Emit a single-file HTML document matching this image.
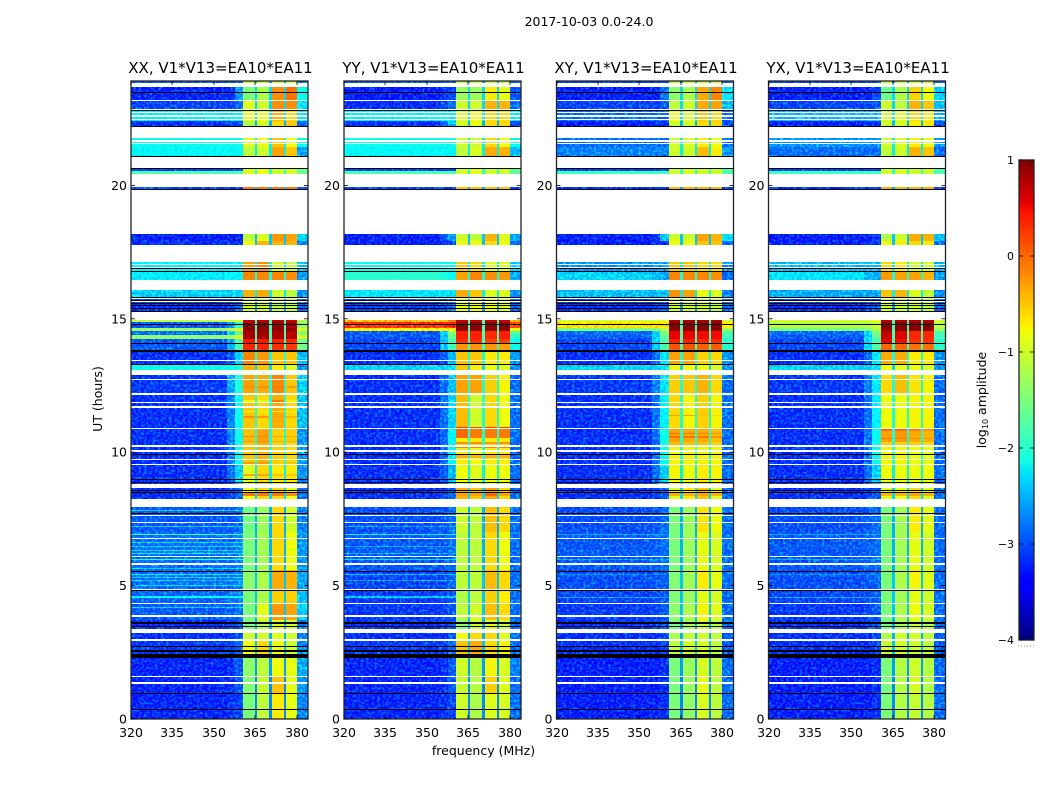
<!DOCTYPE html>
<html>
<head>
<meta charset="utf-8">
<title>2017-10-03 waterfall</title>
<style>
html,body{margin:0;padding:0;background:#fff;}
svg{display:block;}
text{font-family:"DejaVu Sans","Liberation Sans",sans-serif;fill:#000;}
</style>
</head>
<body>
<svg id="fig" xmlns="http://www.w3.org/2000/svg" width="1050" height="800" viewBox="0 0 1050 800">
<defs>
<filter id="grain" filterUnits="userSpaceOnUse" x="0" y="0" width="1050" height="800" color-interpolation-filters="sRGB">
<feTurbulence type="fractalNoise" baseFrequency="0.36 0.4" numOctaves="2" seed="7" result="n"/>
<feColorMatrix in="n" type="matrix" values="0.5 0 0 0 -0.28  0 1.25 0 0 -0.5  0 0 0 0 0  0 0 0 0 1" result="c"/>
<feComposite in="c" in2="SourceAlpha" operator="in" result="m"/>
<feComposite in="SourceGraphic" in2="m" operator="arithmetic" k1="0" k2="1" k3="1" k4="0"/>
</filter>
</defs>
<rect width="1050" height="800" fill="#fff"/>
<text x="589" y="26" font-size="12.5" text-anchor="middle">2017-10-03 0.0-24.0</text>
<text x="0" y="0" font-size="12.5" text-anchor="middle" transform="translate(102,399) rotate(-90)">UT (hours)</text>
<text x="483.5" y="755" font-size="12.5" text-anchor="middle">frequency (MHz)</text>
<text x="0" y="0" font-size="12.5" text-anchor="middle" transform="translate(986,400) rotate(-90)">log<tspan font-size="8" dy="2">10</tspan><tspan dy="-2"> amplitude</tspan></text>
<g id="panels"></g>
<g id="cbar"></g>
</svg>
<script>
// ---------- chart data ----------
const panelTitles = ["XX, V1*V13=EA10*EA11","YY, V1*V13=EA10*EA11","XY, V1*V13=EA10*EA11","YX, V1*V13=EA10*EA11"];
const freqTicks = [320,335,350,365,380];
const utTicks = [0,5,10,15,20];
const colorTicks = [1,0,-1,-2,-3,-4];
const colorTickLabels = ["1","0","\u22121","\u22122","\u22123","\u22124"];
// frequency segments (MHz): low, ramp1, ramp2, sub1, dip, sub2, dip, sub3, dip, sub4, edge
const segEdges = [320,354.6,357.5,360.5,364.8,365.6,370,370.9,375.2,376,380,384];
// UT extent of every observed band
const bandStart = [0,0.95,1.6,2.29,2.98,3.37,3.7,4.35,4.89,5.6,7.0,8.25,8.66,9.52,10.91,12.16,13.08,13.29,13.77,14.24,14.39,14.54,14.65,14.87,15.25,15.63,15.82,16.45,16.75,17.77,17.92,19.83,20.44,21.06,21.44,22.19,22.43,22.88,23.20,23.84];
const bandEnd = [0.95,1.6,2.29,2.98,3.22,3.7,4.35,4.89,5.6,7,7.95,8.66,9.52,10.91,12.16,12.91,13.29,13.77,14.24,14.39,14.54,14.65,14.87,14.95,15.63,15.82,16.08,16.75,17.13,17.92,18.18,19.94,20.65,21.44,21.81,22.43,22.88,23.20,23.69,23.92];
// log10 amplitude in the notch channels for every band
const bandDip = [-2.7,-2.7,-2.6,-2.4,-2.5,-2.5,-2.4,-2.4,-2.4,-2.5,
-2.5,-2.3,-2.2,-2.1,-2.1,-2.1,-2.3,-2.1,-1.9,-1.8,
-1.8,-1.8,-1.8,-1.8,-2.6,-2.6,-2.2,-2.1,-2.2,-2.4,
-2.4,-2.5,-2,-2.2,-2.2,-2.5,-2.2,-2.3,-2.3,-2.6];
// log10 amplitude per band: [low, ramp1, ramp2, sub1, sub2, sub3, sub4, edge]
const levelsXX = [
[-3.35,-3.3,-3.2,-1.5,-1.1,-0.7,-0.85,-2.9],[-3.35,-3.3,-3.1,-1.45,-1.05,-0.5,-0.85,-2.8],[-3.35,-3.3,-3.1,-1.4,-1.1,-0.8,-0.85,-2.7],[-3.25,-3.2,-3,-0.8,-0.6,-0.8,-1,-2.9],[-3.3,-3.3,-3.1,-1,-1,-0.9,-1,-2.9],
[-3.3,-3.2,-3.1,-1.5,-1.1,-0.9,-1,-2.9],[-3.1,-3.05,-3,-1.5,-0.85,-0.25,-0.3,-2.5],[-3.05,-3,-2.9,-1.5,-1.2,-0.55,-0.55,-2.6],[-3,-3,-2.9,-1.4,-1.2,-0.35,-0.4,-2.7],[-3,-3,-2.9,-1.5,-1.25,-0.6,-0.8,-2.8],
[-3.1,-3.1,-3,-1.55,-1.3,-0.6,-1,-2.9],[-3.3,-3.2,-3,-0.8,-0.6,-0.6,-0.8,-3],[-3.3,-3,-2.5,-0.9,-0.6,-0.7,-0.7,-2.8],[-3.3,-2.9,-2.2,-0.5,-0.4,-0.55,-0.6,-2.8],[-3.3,-2.9,-2.2,-0.5,-0.6,-0.35,-0.6,-2.6],
[-3.25,-2.7,-2.1,-0.3,-0.35,-0.15,-0.5,-2.5],[-2.2,-2.2,-2.1,-0.4,-0.5,-0.7,-0.9,-2.8],[-3.3,-3.1,-2.5,-0.15,-0.25,-0.5,-0.5,-2.6],[-3.1,-2.7,-1.8,0.45,0.45,0.4,0.35,-1.6],[-1.4,-1.2,-0.9,0.85,0.85,0.8,0.75,-1],
[-3,-2.5,-1.7,0.8,0.85,0.8,0.75,-1.5],[-1.3,-1,-0.8,0.95,0.95,0.95,0.9,-0.9],[-3.1,-2.8,-2,0.9,0.95,0.9,0.85,-1.4],[-1.1,-1,-0.9,0.7,0.75,0.75,0.7,-1.2],[-3.3,-3.2,-3,-1,-1,-1.1,-1.1,-3],
[-3.2,-3.2,-3.2,-1.2,-1.1,-1.2,-1.2,-3],[-2.5,-2.5,-2.5,-0.4,-0.35,-1,-1.1,-2.8],[-2.35,-2.3,-2.3,-0.15,-0.15,-0.15,-0.2,-2.8],[-2.3,-2.3,-2.3,-0.3,-0.2,-1,-1.1,-2.6],[-3.3,-3.3,-3.3,-0.8,-0.4,-0.4,-0.4,-2.9],
[-3.4,-3.4,-3.4,-1.1,-0.9,-0.25,-0.3,-2.5],[-3.2,-3.2,-3.2,-0.1,-0.1,-0.1,-0.1,-3.2],[-1.8,-1.8,-1.8,-0.9,-0.8,-1,-1,-1.6],[-2.25,-2.25,-2.25,-1.1,-1,-0.3,-0.5,-2.7],[-2.2,-2.2,-2.2,-0.9,-0.8,-0.5,-0.8,-2.2],
[-3.3,-3.2,-3.2,-1.2,-1,-0.6,-0.5,-3],[-2.3,-2.3,-2.3,-0.8,-0.8,-0.4,-0.6,-2.3],[-3.2,-3.2,-3,-0.9,-1,-0.2,-0.2,-2.4],[-3.35,-3.3,-2.8,-1.5,-1.2,-0.2,-0.05,-2.2],[-3.1,-3.1,-3.1,-1,-1,-1,-1,-3]
];
const levelsYY = [
[-3.35,-3.3,-3.2,-1,-1.2,-0.9,-0.95,-3],[-3.35,-3.3,-3.1,-1.05,-1.15,-0.55,-0.9,-3],[-3.35,-3.3,-3.1,-1,-1.15,-0.75,-0.95,-2.9],[-3.25,-3.2,-3,-0.5,-0.35,-0.6,-0.75,-3],[-3.3,-3.3,-3.1,-0.8,-0.6,-0.6,-0.9,-3],
[-3.3,-3.2,-3.1,-1.4,-1,-0.9,-1,-3],[-3.25,-3.2,-3.1,-1.1,-1,-0.45,-0.6,-3],[-3.25,-3.2,-3.1,-1.2,-1.1,-0.55,-0.7,-3],[-3.2,-3.15,-3.05,-1.1,-1.1,-0.45,-0.6,-3],[-3.1,-3.1,-3,-1.1,-1.1,-0.6,-0.8,-3],
[-3.15,-3.1,-3,-1,-1.1,-0.45,-0.6,-3],[-3.3,-3.2,-3,-0.4,-0.5,-0.3,-0.6,-3],[-3.3,-3.1,-2.6,-0.8,-0.9,-0.8,-0.8,-3],[-3.3,-3,-2.3,-0.7,-0.8,-0.7,-0.7,-3],[-3.3,-3,-2.5,-0.45,-1,-0.6,-0.8,-3],
[-3.3,-3,-2.6,-0.3,-0.3,-0.55,-0.75,-3],[-2.5,-2.5,-2.4,-0.5,-0.7,-0.8,-0.9,-2.8],[-3.3,-3.1,-2.6,-0.5,-0.5,-0.7,-0.7,-2.8],[-3.2,-2.6,-1.9,0.3,0.3,0.2,0.2,-2.2],[-3.1,-2.6,-1.6,0.4,0.4,0.35,0.4,-2],
[-3.1,-2.5,-1.5,0.4,0.4,0.35,0.4,-1.8],[-0.6,-0.55,-0.5,0.95,0.95,0.95,0.95,-0.7],[0.45,0.45,0.5,0.95,0.95,0.95,0.95,0.3],[-0.2,-0.2,0,0.7,0.7,0.7,0.7,-0.2],[-3.2,-3.1,-3,-0.85,-0.8,-0.8,-0.9,-3],
[-3.1,-3.1,-3.1,-1,-1,-1,-1,-3],[-2.4,-2.4,-2.4,-0.35,-0.5,-0.9,-0.9,-2.8],[-2,-2.1,-2.2,-0.3,-0.15,-0.2,-0.25,-2.7],[-2.2,-2.2,-2.2,-0.5,-0.6,-0.9,-0.9,-2.5],[-3.4,-3.3,-3.2,-0.8,-0.8,-0.6,-0.8,-3],
[-3.4,-3.1,-2.8,-1,-1.1,-0.4,-0.9,-2.7],[-3.2,-3.2,-3.2,-0.5,-0.5,-0.5,-0.5,-3.2],[-1.8,-1.8,-1.8,-1,-0.9,-1,-1,-1.7],[-2.25,-2.25,-2.25,-1.1,-0.95,-0.35,-0.4,-2.6],[-2.2,-2.2,-2.2,-1,-1,-0.6,-0.8,-2.2],
[-3.3,-3,-2.6,-1,-0.9,-0.6,-0.6,-3.2],[-2.3,-2.3,-2.3,-0.9,-0.8,-0.6,-0.6,-2.3],[-3.3,-3.2,-3,-1,-1,-0.4,-0.4,-3],[-3.4,-3.3,-3.2,-1.3,-1.3,-0.7,-0.85,-3.1],[-3.1,-3.1,-3.1,-1,-1,-1,-1,-3]
];
const levelsXY = [
[-3.4,-3.4,-3.3,-1.5,-1.35,-0.95,-1.1,-3],[-3.4,-3.4,-3.3,-1.5,-1.3,-0.85,-1.1,-3],[-3.4,-3.4,-3.3,-1.5,-1.3,-0.95,-1.1,-3],[-3.3,-3.3,-3.2,-1.1,-1,-0.95,-1.1,-3.1],[-3.3,-3.3,-3.2,-1.2,-1.1,-1,-1.1,-3.1],
[-3.3,-3.2,-3.1,-1.5,-1.2,-1,-1.1,-3],[-3.25,-3.2,-3.1,-1.4,-1.2,-0.75,-0.9,-3],[-3.2,-3.15,-3.1,-1.45,-1.3,-0.85,-0.95,-3],[-3.15,-3.1,-3.05,-1.45,-1.25,-0.7,-0.85,-3],[-3.1,-3.05,-3,-1.5,-1.3,-0.85,-0.95,-3],
[-3.15,-3.1,-3,-1.5,-1.3,-0.65,-0.8,-3],[-3.3,-3.2,-3.1,-0.9,-0.7,-0.5,-0.9,-3],[-3.3,-3,-2.5,-0.75,-0.8,-0.7,-0.75,-3],[-3.3,-3,-2.2,-0.75,-0.75,-0.75,-0.75,-3],[-3.3,-3,-2.3,-0.6,-0.75,-0.55,-0.75,-3],
[-3.25,-2.9,-2.4,-0.55,-0.5,-0.4,-0.6,-3],[-2.5,-2.5,-2.4,-0.8,-0.8,-0.8,-0.9,-2.8],[-3.3,-3,-2.4,-0.3,-0.3,-0.55,-0.6,-2.8],[-3.2,-2.5,-1.8,0.4,0.4,0.35,0.35,-2],[-3.1,-2.5,-1.7,0.55,0.55,0.5,0.5,-1.9],
[-3,-2.5,-1.5,0.55,0.55,0.5,0.5,-1.8],[-1.5,-1.4,-1.2,0.95,0.95,0.95,0.95,-1.3],[-0.5,-0.5,-0.5,0.95,0.95,0.95,0.95,-0.6],[-1,-1,-0.9,0.8,0.8,0.8,0.8,-1],[-3.3,-3.2,-3.1,-1,-1,-1,-1.1,-3],
[-3.2,-3.2,-3.2,-1.2,-1.2,-1.2,-1.2,-3],[-2.6,-2.6,-2.6,-0.2,-0.3,-0.85,-0.9,-2.9],[-2.5,-2.6,-2.7,-0.15,-0.15,-0.15,-0.2,-3],[-2.8,-2.8,-2.8,-0.5,-0.5,-0.6,-0.6,-2.8],[-3.4,-3.3,-3.3,-0.8,-0.8,-0.5,-0.5,-3],
[-3.4,-3.3,-2.6,-1,-1,-0.3,-0.4,-2.4],[-3.3,-3.3,-3.3,-0.4,-0.4,-0.4,-0.4,-3.2],[-1.9,-1.9,-1.9,-1,-0.95,-1,-1,-1.8],[-2.9,-2.9,-2.9,-1,-1,-0.45,-0.7,-2.8],[-3,-3,-3,-1,-0.9,-0.7,-0.8,-3],
[-3.4,-3.3,-3.3,-1,-1,-0.6,-0.6,-3.2],[-3,-3,-3,-0.8,-0.9,-0.5,-0.6,-3],[-3.2,-3.2,-3.1,-1.1,-1,-0.35,-0.3,-2.6],[-3.4,-3.4,-3,-1.4,-1.2,-0.35,-0.15,-2.4],[-3.2,-3.2,-3.2,-1,-1,-1,-1,-3]
];
const levelsYX = [
[-3.4,-3.4,-3.3,-1.5,-1.15,-1.05,-1.15,-3],[-3.4,-3.4,-3.3,-1.5,-1.15,-0.95,-1.15,-3],[-3.4,-3.4,-3.3,-1.5,-1.15,-1,-1.15,-3],[-3.3,-3.3,-3.2,-1,-0.95,-1,-1.1,-3.1],[-3.3,-3.3,-3.2,-1.2,-1,-1,-1.1,-3.1],
[-3.3,-3.2,-3.1,-1.5,-1.2,-1,-1.1,-3],[-3.25,-3.2,-3.1,-1.5,-1.2,-0.8,-0.95,-3],[-3.2,-3.15,-3.1,-1.5,-1.25,-0.85,-1,-3],[-3.15,-3.1,-3.05,-1.5,-1.2,-0.75,-0.9,-3],[-3.1,-3.05,-3,-1.5,-1.25,-0.85,-1,-3],
[-3.15,-3.1,-3,-1.5,-1.25,-0.7,-0.85,-3],[-3.3,-3.2,-3.1,-0.9,-0.8,-0.6,-0.9,-3],[-3.3,-3,-2.5,-0.8,-0.8,-0.8,-0.8,-3],[-3.3,-3,-2.2,-0.75,-0.75,-0.8,-0.85,-3],[-3.3,-3,-2.3,-0.8,-0.8,-0.75,-0.75,-3],
[-3.25,-2.9,-2.4,-0.6,-0.45,-0.65,-0.75,-3],[-2.5,-2.5,-2.4,-0.8,-0.85,-0.8,-0.9,-2.8],[-3.3,-3,-2.4,-0.35,-0.35,-0.7,-0.7,-2.8],[-3.2,-2.5,-1.8,0.55,0.5,0.3,0.3,-2],[-3.1,-2.5,-1.7,0.7,0.6,0.35,0.35,-1.9],
[-3,-2.5,-1.5,0.7,0.6,0.35,0.35,-1.8],[-1.5,-1.4,-1.2,0.95,0.95,0.95,0.95,-1.3],[-1.2,-1.2,-1.1,0.95,0.95,0.95,0.95,-1.2],[-1,-1,-0.9,0.75,0.75,0.75,0.75,-1],[-3.3,-3.2,-3.1,-1,-1.05,-1.05,-1.1,-3],
[-3.2,-3.2,-3.2,-1.2,-1.2,-1.2,-1.2,-3],[-2.7,-2.7,-2.7,-0.5,-0.4,-0.9,-1.1,-2.8],[-2.4,-2.6,-2.7,-0.25,-0.3,-0.3,-0.4,-2.8],[-2.6,-2.6,-2.6,-0.6,-0.7,-1,-1,-2.6],[-3.4,-3.3,-3.3,-0.8,-0.7,-0.6,-0.7,-3],
[-3.4,-3.4,-3.3,-1.2,-1,-0.35,-0.4,-2.6],[-3.3,-3.3,-3.3,-0.4,-0.4,-0.4,-0.4,-3.2],[-1.9,-1.9,-1.9,-1,-0.95,-1,-1,-1.8],[-3,-3,-3,-1.1,-1,-0.4,-0.5,-3],[-2.8,-2.8,-2.8,-1,-0.9,-0.7,-0.8,-2.8],
[-3.4,-3.3,-3.3,-1,-1,-0.7,-0.7,-3.2],[-2.6,-2.6,-2.6,-1,-0.85,-0.6,-0.7,-2.6],[-3.2,-3.2,-3.1,-1,-1.1,-0.4,-0.5,-2.6],[-3.4,-3.4,-3.2,-1.6,-1.2,-0.55,-0.8,-2.5],[-3.2,-3.2,-3.2,-1,-1,-1,-1,-3]
];
// bright or faint narrow integrations in the low band: UT of each line and its level
const lowLineUTXX = [7.83,7.24,6.93,6.65,6.49,6.33,6.22,5.98,5.66,5.45,5.33,5.21,5.02,4.62,4.57,4.21,20.60,20.56];
const lowLineLevelXX = [-2.5,-2.5,-1.9,-2.4,-2.5,-2.4,-2.3,-2,-2.5,-2.3,-2.5,-2.5,-2.4,-2.3,-2.2,-2.5,-3.2,-3.2];
const lowLineUTYY = [7.24,6.93,6.49,6.22,5.98,5.45,5.21,4.62,4.57,20.60,20.56];
const lowLineLevelYY = [-2.7,-2.3,-2.7,-2.6,-2.4,-2.6,-2.7,-2.6,-2.5,-3.2,-3.2];
const lowLineUTXY = [6.93,5.98,5.45,4.57,20.60,20.56];
const lowLineLevelXY = [-2.7,-2.7,-2.8,-2.7,-3.2,-3.2];
const lowLineUTYX = [6.93,5.98,5.45,4.57,20.60,20.56];
const lowLineLevelYX = [-2.7,-2.7,-2.8,-2.7,-3.2,-3.2];
// time-limited changes in the four sub-bands: [UT end, UT start, sub1, sub2, sub3, sub4]
const highPatchXX = [
[14.05,13.79,0.35,0.35,0.3,0.25],[12.48,12.40,-0.2,-0.2,-0.1,-0.3],[11.95,11.84,-0.8,-0.9,-0.1,-0.7],[11.55,11.5,-0.75,-0.75,-0.75,-0.75],
[11.36,11.28,-0.2,-0.25,-0.3,-0.4],[10.83,10.34,-0.45,-0.3,-0.55,-0.55],[10.6,10.56,-0.15,-0.15,-0.3,-0.35],[10.42,10.38,-0.2,-0.2,-0.3,-0.3],
[10.23,10.19,-0.2,-0.2,-0.3,-0.4],[9.63,9.55,-0.25,-0.25,-0.55,-0.5],[9.18,9.1,-0.3,-0.3,-0.5,-0.5],[8.47,8.36,-0.1,-0.1,-0.1,-0.2]
];
const highPatchYY = [
[14.05,13.79,-0.25,-0.25,-0.25,-0.3],[10.94,10.87,0.25,0.25,0.25,0.25],[10.87,10.52,0,-0.1,-0.1,-0.1],[10.52,10.4,-0.7,-0.7,-0.7,-0.7],
[10.4,10.3,-0.2,-0.2,-0.25,-0.2],[10.3,10.2,-0.6,-0.6,-0.6,-0.6],[10.2,10.15,-0.15,-0.15,-0.15,-0.15],[9.9,9.8,-0.4,-0.4,-0.4,-0.4],
[8.47,8.36,-0.3,-0.3,0,-0.3]
];
const highPatchXY = [
[14.05,13.79,0.1,0.1,0.05,0.05],[11.4,11.35,-0.3,-0.3,-0.5,-0.6],[10.91,10.4,-0.3,-0.35,-0.35,-0.45],[10.72,10.68,-0.05,-0.05,-0.15,-0.2],
[10.6,10.55,-0.05,-0.05,-0.1,-0.2],[10.4,10.2,-0.45,-0.45,-0.5,-0.55],[8.47,8.36,-0.4,-0.4,-0.3,-0.4]
];
const highPatchYX = [
[14.05,13.79,0,0,-0.05,-0.05],[10.91,10.4,-0.3,-0.25,-0.35,-0.4],[10.87,10.8,0,0,-0.1,-0.2],[10.55,10.5,-0.1,-0.1,-0.2,-0.2],
[10.4,10.2,-0.55,-0.55,-0.55,-0.6],[8.47,8.36,-0.4,-0.4,-0.3,-0.4]
];
// flagged integrations, UT [end, start] pairs flattened (white = no data)
const whiteGapUT = [23.84,23.69,23.20,23.16,22.88,22.83,22.76,22.72,22.65,22.58,22.50,22.46,21.81,21.78,21.70,21.63,21.59,21.55,17.05,17.03,16.96,16.90,15.80,15.74,15.67,15.63,13.46,13.40,12.74,12.71,12.22,12.16,11.90,11.86,11.75,11.66,10.91,10.87,10.27,10.21,10.08,10.01,9.73,9.69,9.56,9.52,8.81,8.66,7.65,7.59,7.38,7.35,6.77,6.73,6.11,6.07,5.83,5.79,4.89,4.85,4.35,4.31,3.88,3.84,3.37,3.22,2.98,2.94,1.61,1.57,1.37,1.33];
// zero-amplitude integrations (black), UT [end, start] pairs flattened
const blackLineUT = [23.50,23.46,22.83,22.80,22.24,22.19,21.10,21.06,20.65,20.61,19.86,19.83,16.90,16.87,16.81,16.75,15.80,15.77,15.70,15.68,15.61,15.59,15.52,15.48,15.42,15.39,15.31,15.28,14.80,14.77,14.09,14.06,13.83,13.77,13.32,13.29,9.93,9.89,9.00,8.94,8.90,8.85,8.58,8.55,8.51,8.47,7.72,7.68,5.55,5.51,4.83,4.80,3.64,3.56,3.50,3.43,2.75,2.70,2.57,2.51,2.42,2.29,0.97,0.94,0.39,0.36];

const panelLevels = [levelsXX, levelsYY, levelsXY, levelsYX];
const panelLineUT = [lowLineUTXX, lowLineUTYY, lowLineUTXY, lowLineUTYX];
const panelLineLevel = [lowLineLevelXX, lowLineLevelYY, lowLineLevelXY, lowLineLevelYX];
const panelPatches = [highPatchXX, highPatchYY, highPatchXY, highPatchYX];
const panelLeft = [131, 344, 556.5, 768.5];
const panelWidth = 177;
const axTop = 81, axBottom = 719;
const NS = "http://www.w3.org/2000/svg";

function yOf(ut){ return 719 - ut * 26.68; }
function yPx(ut){ return Math.round(yOf(ut)); }
function xOf(left, f){ return Math.round(left + (f - 320) * (panelWidth / 64)); }
function jetColor(v){
  const t = Math.max(0, Math.min(1, (v + 4) / 5));
  const ch = (pts) => {
    for (let i = 1; i < pts.length; i++) {
      if (t <= pts[i][0]) {
        const a = pts[i-1], b = pts[i];
        return a[1] + (b[1]-a[1]) * (t-a[0]) / (b[0]-a[0]);
      }
    }
    return pts[pts.length-1][1];
  };
  const r = ch([[0,0],[0.35,0],[0.66,1],[0.89,1],[1,0.5]]);
  const g = ch([[0,0],[0.125,0],[0.375,1],[0.64,1],[0.91,0],[1,0]]);
  const b = ch([[0,0.5],[0.11,1],[0.34,1],[0.65,0],[1,0]]);
  return "rgb(" + Math.round(r*255) + "," + Math.round(g*255) + "," + Math.round(b*255) + ")";
}
function mk(tag, parent){
  const el = document.createElementNS(NS, tag);
  parent.appendChild(el);
  return el;
}
function place(el, x, y, w, h, fill){
  el.setAttribute("x", x);
  el.setAttribute("y", y);
  el.setAttribute("width", w);
  el.setAttribute("height", h);
  el.setAttribute("fill", fill);
}
const panelsG = document.getElementById("panels");
const segIndex = [0,1,2,3,-1,4,-1,5,-1,6,7];
const subSegs = [3,5,7,9];
panelLevels.forEach(function(levels, p){
  const left = panelLeft[p];
  const g = mk("g", panelsG);
  
  
  const lowG = mk("g", g);
  
  
  lowG.setAttribute("filter", "url(#grain)");
  const highG = mk("g", g);
  
  
  levels.forEach(function(row, b){
    const y0 = yPx(bandEnd[b]);
    const y1 = yPx(bandStart[b]);
    for (let s = 0; s < segIndex.length; s++) {
      const idx = segIndex[s];
      const v = idx < 0 ? bandDip[b] : row[idx];
      const x0 = xOf(left, segEdges[s]);
      const x1 = xOf(left, segEdges[s+1]);
      const isLow = (s < 3 || s === 10);
      const cell = mk("rect", isLow ? lowG : highG);
      
      
      place(cell, x0, y0, x1-x0, y1-y0, jetColor(v));
    }
  });
  panelLineUT[p].forEach(function(ut, i){
    const line = mk("rect", lowG);
    
    
    place(line, xOf(left, segEdges[0]), yPx(ut), xOf(left, segEdges[3]) - xOf(left, segEdges[0]), 1, jetColor(panelLineLevel[p][i]));
  });
  panelPatches[p].forEach(function(patch){
    const y0 = yPx(patch[0]);
    const y1 = yPx(patch[1]);
    subSegs.forEach(function(s, k){
      const x0 = xOf(left, segEdges[s]);
      const x1 = xOf(left, segEdges[s+1]);
      const cell = mk("rect", highG);
      
      
      place(cell, x0, y0, x1-x0, Math.max(1, y1-y0), jetColor(patch[2+k]));
    });
  });
  const gx = Math.round(left), gw = panelWidth;
  for (let i = 0; i < whiteGapUT.length; i += 2) {
    const gap = mk("rect", g);
    
    
    place(gap, gx, yPx(whiteGapUT[i]), gw, Math.max(1, yPx(whiteGapUT[i+1])-yPx(whiteGapUT[i])), "#fff");
  }
  for (let i = 0; i < blackLineUT.length; i += 2) {
    const line = mk("rect", g);
    
    
    place(line, gx, yPx(blackLineUT[i]), gw, Math.max(1, yPx(blackLineUT[i+1])-yPx(blackLineUT[i])), "#000");
  }
  // spine
  const frame = mk("rect", g);
  
  
  place(frame, left, axTop, panelWidth, axBottom-axTop, "none");
  frame.setAttribute("stroke", "#222");
  frame.setAttribute("stroke-width", "1.3");
  // title
  const title = mk("text", g);
  
  
  title.setAttribute("x", left + panelWidth/2 + 1);
  title.setAttribute("y", 73);
  title.setAttribute("font-size", "15");
  title.setAttribute("text-anchor", "middle");
  title.textContent = panelTitles[p];
  // x ticks
  freqTicks.forEach(function(f){
    const x = xOf(left, f);
    [[axBottom, axBottom-4],[axTop, axTop+4]].forEach(function(t){
      const tick = mk("line", g);
      
      
      tick.setAttribute("x1", x);
      tick.setAttribute("x2", x);
      tick.setAttribute("y1", t[0]);
      tick.setAttribute("y2", t[1]);
      tick.setAttribute("stroke", "#000");
      tick.setAttribute("stroke-width", "0.8");
    });
    const lab = mk("text", g);
    
    
    lab.setAttribute("x", x);
    lab.setAttribute("y", 737);
    lab.setAttribute("font-size", "12.5");
    lab.setAttribute("text-anchor", "middle");
    lab.textContent = f;
  });
  // y ticks
  utTicks.forEach(function(u){
    const y = yOf(u);
    [[left, left+4],[left+panelWidth, left+panelWidth-4]].forEach(function(t){
      const tick = mk("line", g);
      
      
      tick.setAttribute("x1", t[0]);
      tick.setAttribute("x2", t[1]);
      tick.setAttribute("y1", y);
      tick.setAttribute("y2", y);
      tick.setAttribute("stroke", "#000");
      tick.setAttribute("stroke-width", "0.8");
    });
    const lab = mk("text", g);
    
    
    lab.setAttribute("x", left - 4);
    lab.setAttribute("y", y + 4.5);
    lab.setAttribute("font-size", "12.5");
    lab.setAttribute("text-anchor", "end");
    lab.textContent = u;
  });
});
// colorbar
const cb = document.getElementById("cbar");
const cbLeft = 1019, cbRight = 1034, cbTop = 160, cbBottom = 640;
function cbY(v){ return cbBottom - (v + 4) * (cbBottom - cbTop) / 5; }
for (let py = cbTop; py < cbBottom; py++) {
  const strip = mk("rect", cb);
  
  
  const value = -4 + (cbBottom - py - 0.5) * 5 / (cbBottom - cbTop);
  place(strip, cbLeft, py, cbRight-cbLeft, 1.2, jetColor(value));
}
const cbFrame = mk("rect", cb);


place(cbFrame, cbLeft, cbTop, cbRight-cbLeft, cbBottom-cbTop, "none");
cbFrame.setAttribute("stroke", "#222");
cbFrame.setAttribute("stroke-width", "1.3");
colorTicks.forEach(function(v, i){
  const y = cbY(v);
  [[cbLeft, cbLeft+4],[cbRight, cbRight-4]].forEach(function(t){
    const tick = mk("line", cb);
    
    
    tick.setAttribute("x1", t[0]);
    tick.setAttribute("x2", t[1]);
    tick.setAttribute("y1", y);
    tick.setAttribute("y2", y);
    tick.setAttribute("stroke", "#000");
    tick.setAttribute("stroke-width", "0.8");
  });
  const lab = mk("text", cb);
  
  
  lab.setAttribute("x", 1014);
  lab.setAttribute("y", y + 4);
  lab.setAttribute("font-size", "11");
  lab.setAttribute("text-anchor", "end");
  lab.textContent = colorTickLabels[i];
});
const cbDots = mk("line", cb);


cbDots.setAttribute("x1", 1018);
cbDots.setAttribute("x2", 1035);
cbDots.setAttribute("y1", 646);
cbDots.setAttribute("y2", 646);
cbDots.setAttribute("stroke", "#888");
cbDots.setAttribute("stroke-width", "1");
cbDots.setAttribute("stroke-dasharray", "1 2");
</script>
</body>
</html>
